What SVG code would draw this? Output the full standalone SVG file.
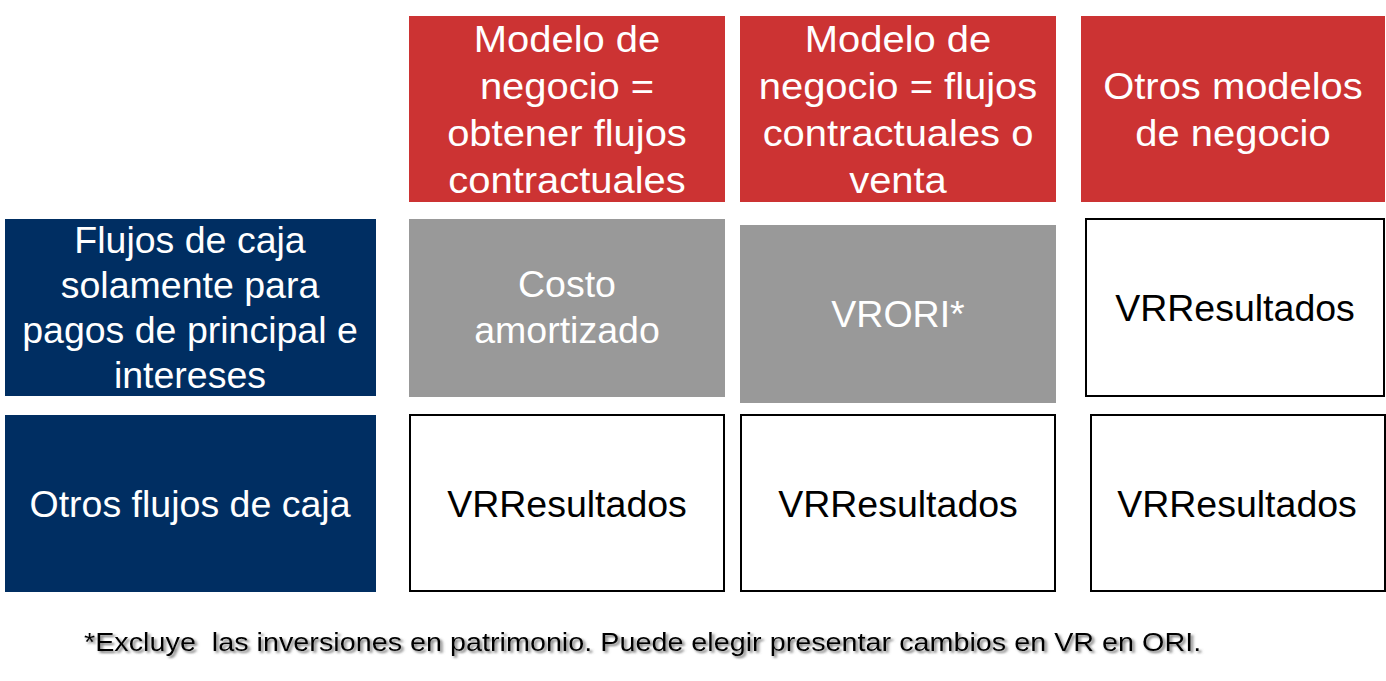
<svg xmlns="http://www.w3.org/2000/svg" width="1386" height="681" viewBox="0 0 1386 681">
<defs>
<style>
.t{font-family:"Liberation Sans",Arial,sans-serif;font-size:37.5px;text-anchor:middle}
.w{fill:#ffffff}
.k{fill:#000000}
.red{fill:#CC3333}
.navy{fill:#002E62}
.grey{fill:#999999}
.box{fill:#ffffff;stroke:#000000;stroke-width:2}
.note{font-family:"Liberation Sans",Arial,sans-serif;font-size:25.5px;fill:#000000}
</style>
<filter id="sh" x="-2%" y="-40%" width="104%" height="180%">
<feDropShadow dx="2" dy="2" stdDeviation="1.2" flood-color="#666666" flood-opacity="0.9"/>
</filter>
</defs>
<rect width="1386" height="681" fill="#ffffff"/>
<g id="head1">
<rect class="red" x="409" y="16" width="316" height="186"/>
<g transform="translate(567,0) scale(1.065,1)">
<text class="t w" x="0" y="52">Modelo de</text>
<text class="t w" x="0" y="99">negocio =</text>
<text class="t w" x="0" y="146">obtener flujos</text>
<text class="t w" x="0" y="193">contractuales</text>
</g>
</g>
<g id="head2">
<rect class="red" x="740" y="16" width="316" height="186"/>
<g transform="translate(898,0) scale(1.065,1)">
<text class="t w" x="0" y="52">Modelo de</text>
<text class="t w" x="0" y="99">negocio = flujos</text>
<text class="t w" x="0" y="146">contractuales o</text>
<text class="t w" x="0" y="193">venta</text>
</g>
</g>
<g id="head3">
<rect class="red" x="1081" y="16" width="304" height="186"/>
<g transform="translate(1233,0) scale(1.065,1)">
<text class="t w" x="0" y="99">Otros modelos</text>
<text class="t w" x="0" y="146">de negocio</text>
</g>
</g>
<g id="row1">
<rect class="navy" x="5" y="219" width="371" height="177"/>
<text class="t w" x="190" y="253">Flujos de caja</text>
<text class="t w" x="190" y="298">solamente para</text>
<text class="t w" x="190" y="343">pagos de principal e</text>
<text class="t w" x="190" y="388">intereses</text>
</g>
<g id="row2">
<rect class="navy" x="5" y="415" width="371" height="177"/>
<text class="t w" x="190" y="517">Otros flujos de caja</text>
</g>
<g id="c11">
<rect class="grey" x="409" y="219" width="316" height="178"/>
<text class="t w" x="567" y="297">Costo</text>
<text class="t w" x="567" y="343">amortizado</text>
</g>
<g id="c12">
<rect class="grey" x="740" y="225" width="316" height="178"/>
<text class="t w" x="898" y="327">VRORI*</text>
</g>
<g id="c13">
<rect class="box" x="1086" y="219" width="298" height="177"/>
<text class="t k" x="1235" y="321">VRResultados</text>
</g>
<g id="c21">
<rect class="box" x="410" y="415" width="314" height="176"/>
<text class="t k" x="567" y="517">VRResultados</text>
</g>
<g id="c22">
<rect class="box" x="741" y="415" width="314" height="176"/>
<text class="t k" x="898" y="517">VRResultados</text>
</g>
<g id="c23">
<rect class="box" x="1091" y="415" width="294" height="176"/>
<text class="t k" x="1237" y="517">VRResultados</text>
</g>
<g id="connectors"></g>
<g id="footnote">
<text class="note" transform="translate(84,651) scale(1.128,1)" x="0" y="0" filter="url(#sh)" xml:space="preserve">*Excluye  las inversiones en patrimonio. Puede elegir presentar cambios en VR en ORI.</text>
</g>
</svg>
